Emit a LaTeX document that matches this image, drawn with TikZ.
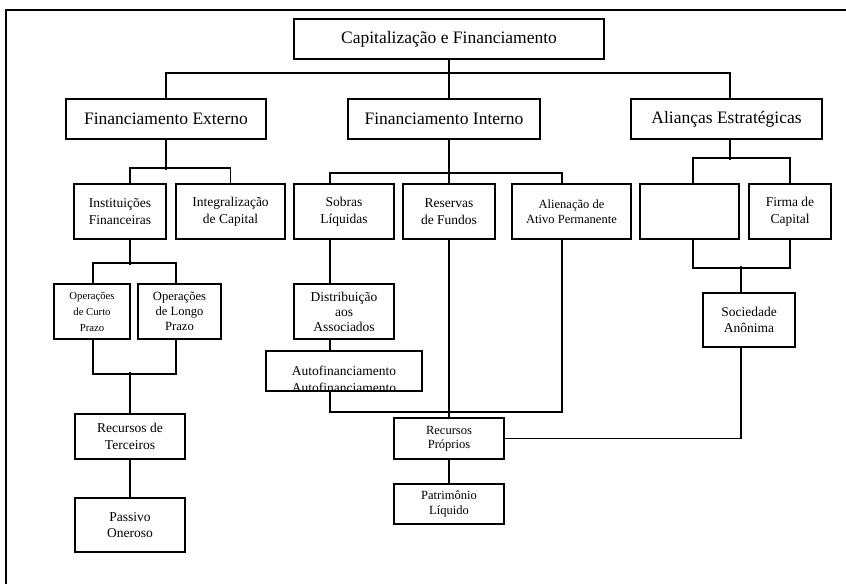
\documentclass[tikz,border=0pt]{standalone}
\usepackage{fontspec}
\setmainfont{Liberation Serif}
\begin{document}
\begin{tikzpicture}[x=1pt,y=-1pt,
  caixa/.style={draw,line width=1.6pt,align=center,inner sep=0pt},
  nivelum/.style={caixa,minimum height=40,font=\fontsize{17.5}{21}\selectfont},
  niveldois/.style={caixa,minimum height=55,font=\fontsize{13.5}{16.5}\selectfont},
  miudo/.style={font=\fontsize{12.5}{14.5}\selectfont},
  linha/.style={line width=1.6pt}]
\useasboundingbox (0,0) rectangle (846,584);
\draw[linha] (846,10) -- (6,10) -- (6,584);
% primeiro nivel
\node[nivelum,minimum width=310] (cap) at (449,39) {Capitalização e Financiamento};
\node[nivelum,minimum width=200] (fext) at (166,119) {Financiamento Externo};
\node[nivelum,minimum width=192] (fint) at (444,119) {Financiamento Interno};
\node[nivelum,minimum width=191] (alian) at (726.5,119) {Alianças Estratégicas};
% segundo nivel
\node[niveldois,minimum width=92] (inst) at (120,211.5) {Instituições\\Financeiras};
\node[niveldois,minimum width=109] (integ) at (230.5,211.5) {Integralização\\de Capital};
\node[niveldois,minimum width=100] (sobras) at (344,211.5) {Sobras\\Líquidas};
\node[niveldois,minimum width=92] (reserv) at (449,211.5) {Reservas\\de Fundos};
\node[niveldois,miudo,minimum width=119] (alien) at (571.5,211.5) {Alienação de\\Ativo Permanente};
\node[niveldois,minimum width=99] (vazio) at (689.5,211.5) {};
\node[niveldois,minimum width=82] (firma) at (790,211.5) {Firma de\\Capital};
% terceiro nivel
\node[niveldois,font=\fontsize{10.7}{16}\selectfont,minimum width=76] (opcurto) at (92,311.5) {Operações\\de Curto\\Prazo};
\node[niveldois,font=\fontsize{12.6}{15}\selectfont,minimum width=83] (oplongo) at (179.5,311.5) {Operações\\de Longo\\Prazo};
\node[niveldois,font=\fontsize{13.5}{15}\selectfont,minimum width=100] (distrib) at (344,311.5) {Distribuição\\aos\\Associados};
\node[caixa,minimum width=156,minimum height=40,
  path picture={
    \clip (path picture bounding box.north west) rectangle ([yshift=2pt]path picture bounding box.south east);
    \node[anchor=north,align=center,inner sep=0pt,font=\fontsize{13.5}{17}\selectfont]
      at ([yshift=-8pt]path picture bounding box.north) {Autofinanciamento\\Autofinanciamento};
  }] (autofin) at (344,371) {};
\node[niveldois,minimum width=92,minimum height=54] (socied) at (749,320) {Sociedade\\Anônima};
% recursos
\node[niveldois,minimum width=110,minimum height=45] (rterc) at (130,436.5) {Recursos de\\Terceiros};
\node[niveldois,minimum width=110,minimum height=54] (passivo) at (130,525) {Passivo\\Oneroso};
\node[niveldois,miudo,minimum width=110,minimum height=41] (rprop) at (449,438.5) {Recursos\\Próprios};
\node[niveldois,miudo,minimum width=110,minimum height=40] (patrim) at (449,504) {Patrimônio\\Líquido};
% ligacoes
\draw[linha] (cap.south) -- (cap.south |- fint.north);
\draw[linha] (fext.north) -- ++(0,-25) -| ([xshift=3.5]alian.north);
\draw[linha] (fext.south) -- ++(0,30);
\draw[linha] ([xshift=10]inst.north) |- ([yshift=15]integ.north) -- (integ.north);
\draw[linha] (fint.south -| reserv.north) -- (reserv.north);
\draw[linha] ([xshift=-14]sobras.north) |- ([xshift=-9.5,yshift=10]alien.north) -- ([xshift=-9.5]alien.north);
\draw[linha] ([xshift=3.5]alian.south) -- ++(0,20);
\draw[linha] ([xshift=3.5]vazio.north) |- ([yshift=25]firma.north) -- (firma.north);
\draw[linha] ([xshift=3.5]vazio.south) |- ([yshift=-28]firma.south) -- (firma.south);
\draw[linha] ([xshift=-8]socied.north) -- ++(0,-26);
\draw[linha] ([xshift=-8]socied.south) |- (rprop.east);
\draw[linha] ([xshift=10]inst.south) -- ++(0,25);
\draw[linha] ([xshift=1]opcurto.north) |- ([xshift=-3.5,yshift=20]oplongo.north) -- ([xshift=-3.5]oplongo.north);
\draw[linha] ([xshift=1]opcurto.south) |- ([xshift=-3.5,yshift=-34]oplongo.south) -- ([xshift=-3.5]oplongo.south);
\draw[linha] (rterc.north) -- ++(0,-41);
\draw[linha] (rterc) -- (passivo);
\draw[linha] ([xshift=-14]sobras.south) -- ([xshift=-14]distrib.north);
\draw[linha] ([xshift=-14]distrib.south) -- ([xshift=-14]autofin.north);
\draw[linha] ([xshift=-14]autofin.south) -- ++(0,20) -| ([xshift=-9.5]alien.south);
\draw[linha] (reserv.south) -- (rprop.north);
\draw[linha] (rprop) -- (patrim);
\end{tikzpicture}
\end{document}
